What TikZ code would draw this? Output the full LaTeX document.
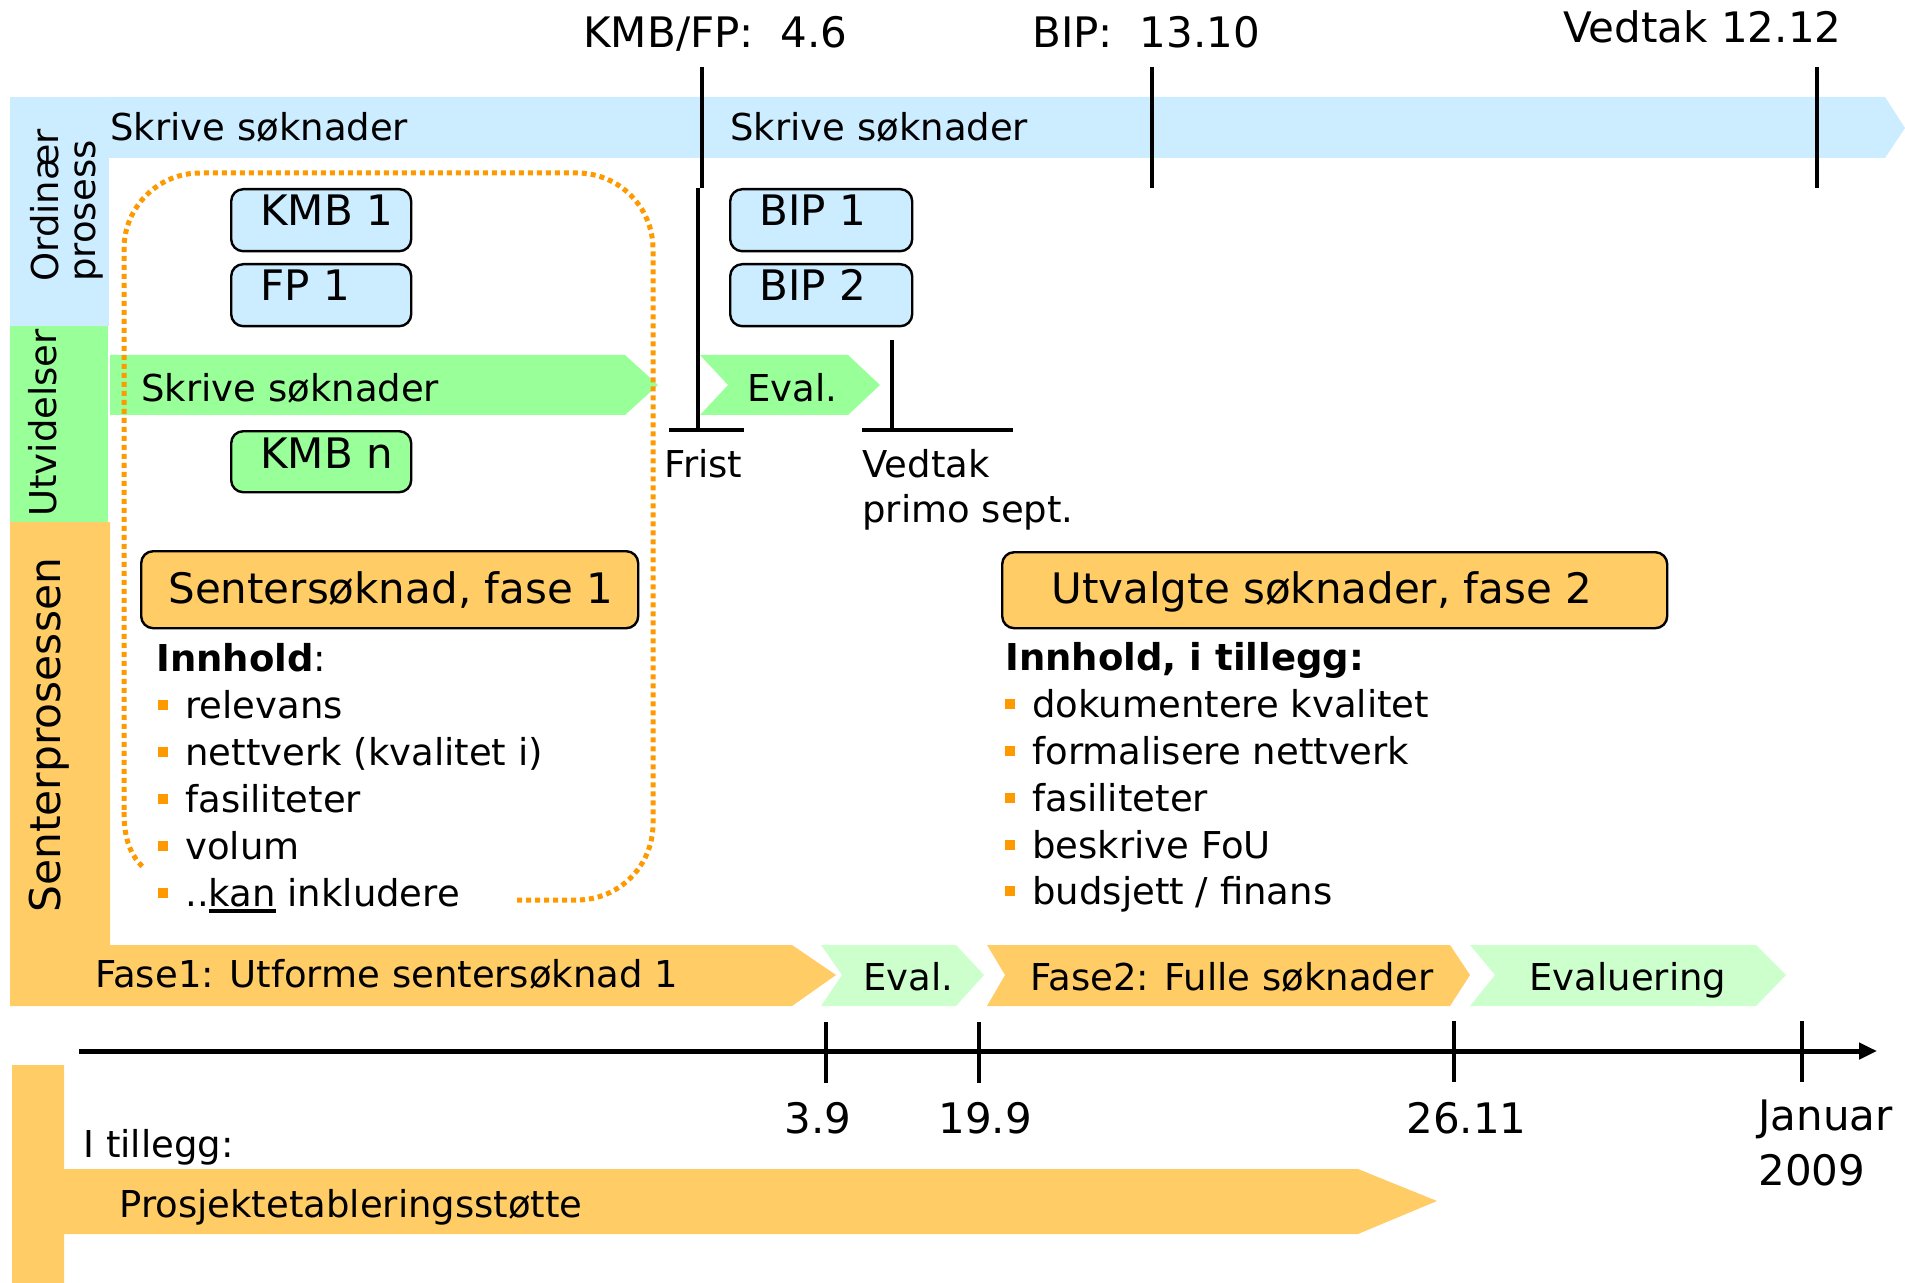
\documentclass[tikz,border=0pt]{standalone}
\usepackage{fontspec}
\setmainfont{DejaVu Sans}
\usetikzlibrary{arrows.meta}
\definecolor{bandblue}{HTML}{CCECFF}
\definecolor{bandgreen}{HTML}{99FF99}
\definecolor{palegreen}{HTML}{CCFFCC}
\definecolor{bandorange}{HTML}{FFCC66}
\definecolor{dotorange}{HTML}{FF9900}
\newcommand\fsN{\fontsize{18.5pt}{22pt}\selectfont}
\newcommand\fsL{\fontsize{21pt}{25pt}\selectfont}
\newcommand\fsXL{\fontsize{21.2pt}{26pt}\selectfont}
\newcommand\blt{\textcolor{dotorange}{\rule[4pt]{5pt}{5pt}}\hspace{8.5pt}}
\newcommand\myul[1]{\setbox0\hbox{#1}\rlap{\rule[-3.5pt]{\wd0}{2pt}}#1}
\begin{document}
\begin{tikzpicture}[x=0.5pt,y=-0.5pt,
  txt/.style={inner sep=0pt, anchor=base west, font=\fsN},
  bigtxt/.style={inner sep=0pt, anchor=base west, font=\fsL},
  side/.style={inner sep=0pt, anchor=base west, rotate=90, font=\fsN},
  bx/.style={draw=black, line width=1.2pt, rounded corners=6pt, inner sep=0pt,
    anchor=north west, minimum width=90pt, minimum height=31pt},
  msline/.style={line width=2pt},
  tickline/.style={line width=1.6pt},
  dotline/.style={dotorange, line width=2.5pt, dash pattern=on 2.5pt off 2pt}]
\useasboundingbox (0,0) rectangle (1905,1283);
% left sidebar and bands
\fill[bandblue] (10,97) rectangle (109,326);
\fill[bandblue] (109,97) -- (1885,97) -- (1905,128) -- (1885,158) -- (109,158) -- cycle;
\fill[bandgreen] (10,326) rectangle (108,522);
\fill[bandorange] (10,522) -- (110,522) -- (110,945) -- (792,945) -- (836,975) -- (792,1006) -- (10,1006) -- cycle;
\fill[bandgreen] (110,355) -- (625,355) -- (658,385) -- (625,415) -- (110,415) -- cycle;
\fill[bandgreen] (700,355) -- (848,355) -- (880,385) -- (848,415) -- (700,415) -- (728,385) -- cycle;
% bottom phase row
\fill[palegreen] (821,945) -- (956,945) -- (984,975) -- (956,1006) -- (821,1006) -- (842,975) -- cycle;
\fill[bandorange] (987,945) -- (1450,945) -- (1470,975) -- (1450,1006) -- (987,1006) -- (1005,975) -- cycle;
\fill[palegreen] (1470,945) -- (1756,945) -- (1786,975) -- (1756,1006) -- (1470,1006) -- (1495,975) -- cycle;
\fill[bandorange] (12,1065) -- (64,1065) -- (64,1169) -- (1358,1169) -- (1437,1201) -- (1358,1234) -- (64,1234) -- (64,1283) -- (12,1283) -- cycle;
% milestone lines
\draw[msline] (702,67) -- (702,188);
\draw[msline] (1152,67) -- (1152,188);
\draw[msline] (1817,67) -- (1817,188);
\draw[msline] (698,188) -- (698,430);
\draw[msline] (669,430) -- (744,430);
\draw[msline] (892,340) -- (892,430);
\draw[msline] (862,430) -- (1013,430);
% timeline
\draw[line width=2.5pt, -{Triangle[length=9pt,width=8pt]}] (79,1051) -- (1877,1051);
\draw[tickline] (826,1022) -- (826,1083);
\draw[tickline] (979,1022) -- (979,1083);
\draw[tickline] (1454,1021) -- (1454,1082);
\draw[tickline] (1802,1021) -- (1802,1082);
% boxes
\node[bx, fill=bandblue] (kmb1) at (230,188) {};
\node[bx, fill=bandblue] (fp1) at (230,263) {};
\node[bx, fill=bandgreen, minimum height=30.5pt] (kmbn) at (230,430) {};
\node[bx, fill=bandblue, minimum width=91pt] (bip1) at (729,188) {};
\node[bx, fill=bandblue, minimum width=91pt] (bip2) at (729,263) {};
\node[bx, fill=bandorange, minimum width=248.5pt, minimum height=38.5pt] (fase1box) at (140,550) {};
\node[bx, fill=bandorange, minimum width=332.5pt, minimum height=38pt] (fase2box) at (1001,551) {};
% dotted outline
\draw[dotline, rounded corners=38pt]
  (517,900) -- (653,900) -- (653,173) -- (124,173) -- (124,812);
\draw[dotline] (124,812) .. controls (124,840) and (131,856) .. (144,868);
% texts
\node[bigtxt] (lbkmbfp) at (583,48) {KMB/FP:\ \ 4.6};
\node[bigtxt] (lbbip) at (1032,48) {BIP:\ \ 13.10};
\node[bigtxt] (lbvedtak) at (1563,43) {Vedtak 12.12};
\node[txt] (band1) at (110,141) {Skrive søknader};
\node[txt] (band2) at (730,141) {Skrive søknader};
\node[txt] (band3) at (141,401) {Skrive søknader};
\node[txt] (eval1) at (747,401) {Eval.};
\node[side] (ordinaer) at (58,282) {Ordinær};
\node[side] (prosess) at (95,282) {prosess};
\node[side] (utvid) at (56,517) {Utvidelser};
\node[side, font=\fsXL] (senter) at (60,913) {Senterprosessen};
\node[bigtxt] (kmb1t) at (260,226) {KMB 1};
\node[bigtxt] (fp1t) at (260,301) {FP 1};
\node[bigtxt] (kmbnt) at (260,468) {KMB n};
\node[bigtxt] (bip1t) at (759,226) {BIP 1};
\node[bigtxt] (bip2t) at (759,301) {BIP 2};
\node[txt] (frist) at (664,477) {Frist};
\node[txt] (vedtak) at (862,477) {Vedtak};
\node[txt] (primo) at (862,522) {primo sept.};
\node[bigtxt] (fase1t) at (168,603) {Sentersøknad, fase 1};
\node[bigtxt] (fase2t) at (1051,603) {Utvalgte søknader, fase 2};
\node[txt] (inn1) at (156,671) {\textbf{Innhold}:};
\node[txt] (la) at (158,718) {\blt relevans};
\node[txt] (lb) at (158,765) {\blt nettverk (kvalitet i)};
\node[txt] (lc) at (158,812) {\blt fasiliteter};
\node[txt] (ld) at (158,859) {\blt volum};
\node[txt] (le) at (158,906) {\blt ..\myul{kan} inkludere};
\node[txt] (inn2) at (1005,670) {\textbf{Innhold, i tillegg:}};
\node[txt] (ra) at (1005,717) {\blt dokumentere kvalitet};
\node[txt] (rb) at (1005,764) {\blt formalisere nettverk};
\node[txt] (rc) at (1005,811) {\blt fasiliteter};
\node[txt] (rd) at (1005,858) {\blt beskrive FoU};
\node[txt] (re) at (1005,904) {\blt budsjett / finans};
\node[txt] (fase1) at (95,987) {Fase1: Utforme sentersøknad 1};
\node[txt] (eval2) at (863,990) {Eval.};
\node[txt] (fase2) at (1030,990) {Fase2: Fulle søknader};
\node[txt] (evalu) at (1529,990) {Evaluering};
\node[bigtxt] (t1) at (784,1133) {3.9};
\node[bigtxt] (t2) at (938,1133) {19.9};
\node[bigtxt] (t3) at (1406,1133) {26.11};
\node[bigtxt] (t4) at (1758,1130) {Januar};
\node[bigtxt] (t5) at (1758,1185) {2009};
\node[txt] (itill) at (83,1157) {I tillegg:};
\node[txt] (prosj) at (119,1217) {Prosjektetableringsstøtte};
\end{tikzpicture}
\end{document}
